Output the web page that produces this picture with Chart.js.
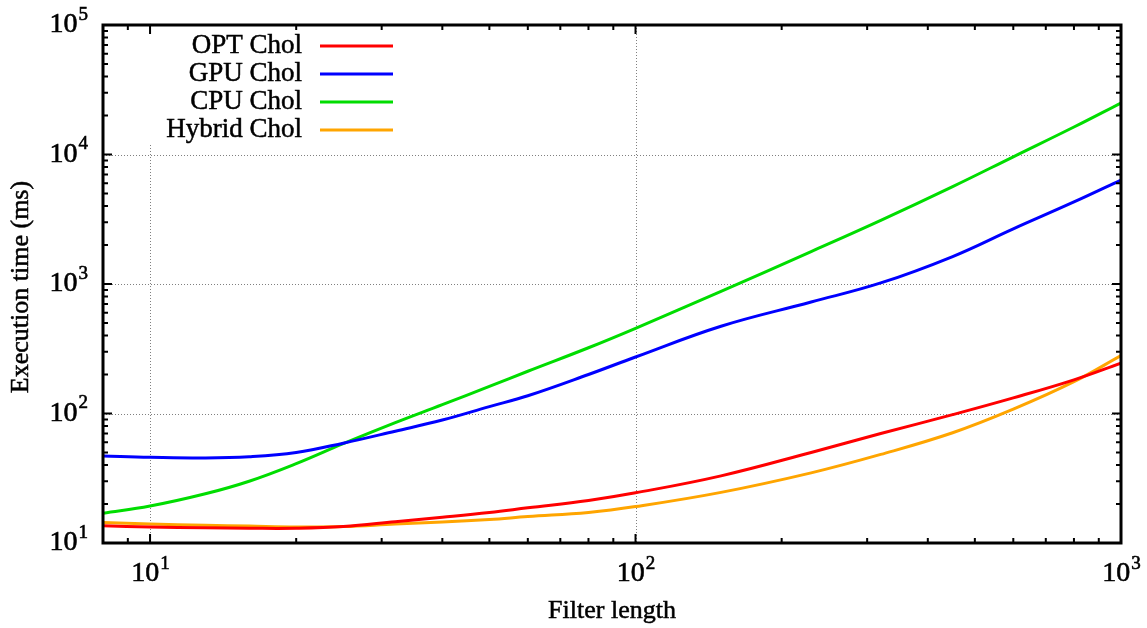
<!DOCTYPE html>
<html>
<head>
<meta charset="utf-8">
<script src="https://cdn.jsdelivr.net/npm/chart.js@4"></script>
<style>
  body { margin: 0; background: #fff; }
  #wrap { width: 1147px; height: 628px; }
</style>
</head>
<body>
<div id="wrap"><canvas id="execChart" width="1147" height="628"></canvas></div>
<script>
// execution time vs filter length, log-log

const filterLengths = [8, 10, 13, 16, 20, 25, 32, 40, 50, 60, 80, 100, 150, 230, 320, 450, 600, 800, 1000];
const optChol    = [13.6, 13.3, 13.1, 13.0, 13.0, 13.4, 14.6, 15.8, 17.2, 18.7, 21.3, 24.4, 33, 50, 70, 98, 132, 182, 245];
const gpuChol    = [47, 45.9, 45.3, 46.3, 50, 59, 73, 89, 113, 137, 200, 273, 472, 726, 1019, 1630, 2666, 4300, 6350];
const cpuChol    = [17.0, 19.3, 24.0, 30.0, 41.0, 58.5, 85, 117, 162, 212, 322, 455, 878, 1780, 3100, 5650, 9600, 16300, 25000];
const hybridChol = [14.4, 14.0, 13.7, 13.5, 13.3, 13.4, 14.0, 14.5, 15.2, 16.0, 17.2, 19.1, 24.6, 34.8, 48.3, 71, 108, 176, 280];

const seriesNames = ['OPT Chol', 'GPU Chol', 'CPU Chol', 'Hybrid Chol'];
const seriesColors = ['#ff0000', '#0000ff', '#00dd00', '#ffa500'];
const xTickValues = [10, 100, 1000];
const yTickValues = [10, 100, 1000, 10000, 100000];

const serif = '"Liberation Serif", "DejaVu Serif", serif';

function toPoints(values) {
    return filterLengths.map((x, i) => ({ x: x, y: values[i] }));
}

// filled text with a hairline stroke, so it looks as heavy as the original
function heavyText(ctx, text, x, y) {
    ctx.fillText(text, x, y);
    ctx.strokeText(text, x, y);
}

function drawPower(ctx, x, y, exp, align) {
    ctx.font = '28px ' + serif;
    const baseW = ctx.measureText('10').width;
    ctx.font = '19px ' + serif;
    const supW = ctx.measureText(String(exp)).width;
    let left = x;
    if (align === 'right') left = x - baseW - supW;
    if (align === 'center') left = x - (baseW + supW) / 2;
    ctx.textAlign = 'left';
    ctx.textBaseline = 'middle';
    ctx.fillStyle = '#000';
    ctx.strokeStyle = '#000';
    ctx.lineWidth = 0.6;
    ctx.font = '28px ' + serif;
    heavyText(ctx, '10', left, y);
    ctx.font = '19px ' + serif;
    heavyText(ctx, String(exp), left + baseW + 1, y - 10);
}

const frame = {
    id: 'frame',
    beforeDatasetsDraw(chart) {
        const ctx = chart.ctx;
        const a = chart.chartArea;
        const xs = chart.scales.x, ys = chart.scales.y;
        ctx.save();
        ctx.strokeStyle = '#808080';
        ctx.lineWidth = 1;
        ctx.setLineDash([1, 2]);
        xTickValues.forEach(v => {
            const px = Math.round(xs.getPixelForValue(v)) + 0.5;
            ctx.beginPath(); ctx.moveTo(px, a.top); ctx.lineTo(px, a.bottom); ctx.stroke();
        });
        yTickValues.forEach(v => {
            const py = Math.round(ys.getPixelForValue(v)) + 0.5;
            ctx.beginPath(); ctx.moveTo(a.left, py); ctx.lineTo(a.right, py); ctx.stroke();
        });
        ctx.setLineDash([]);
        // legend box hides the grid behind it
        ctx.fillStyle = '#fff';
        ctx.fillRect(a.left, a.top, 300, 118);
        ctx.restore();
    },
    afterDraw(chart) {
        const ctx = chart.ctx;
        const a = chart.chartArea;
        const xs = chart.scales.x, ys = chart.scales.y;
        ctx.save();
        ctx.strokeStyle = '#000';

        // minor + major ticks, inside, all four sides
        ctx.lineWidth = 2;
        for (let d = 1; d <= 100; d *= 10) {
            for (let m = 1; m <= 9; m++) {
                const v = d * m;
                if (v < 8 || v > 1000) continue;
                const px = xs.getPixelForValue(v);
                const len = m === 1 ? 9 : 5;
                ctx.beginPath();
                ctx.moveTo(px, a.bottom); ctx.lineTo(px, a.bottom - len);
                ctx.moveTo(px, a.top); ctx.lineTo(px, a.top + len);
                ctx.stroke();
            }
        }
        for (let d = 10; d <= 100000; d *= 10) {
            for (let m = 1; m <= 9; m++) {
                const v = d * m;
                if (v > 100000) continue;
                const py = ys.getPixelForValue(v);
                const len = m === 1 ? 9 : 5;
                ctx.beginPath();
                ctx.moveTo(a.left, py); ctx.lineTo(a.left + len, py);
                ctx.moveTo(a.right, py); ctx.lineTo(a.right - len, py);
                ctx.stroke();
            }
        }

        ctx.lineWidth = 3;
        ctx.strokeRect(a.left, a.top, a.right - a.left, a.bottom - a.top);

        // tick labels
        xTickValues.forEach(v => {
            drawPower(ctx, xs.getPixelForValue(v), a.bottom + 31, Math.round(Math.log10(v)), 'center');
        });
        yTickValues.forEach(v => {
            drawPower(ctx, a.left - 16, ys.getPixelForValue(v), Math.round(Math.log10(v)), 'right');
        });

        // axis titles
        ctx.fillStyle = '#000';
        ctx.strokeStyle = '#000';
        ctx.lineWidth = 0.5;
        ctx.font = '26px ' + serif;
        ctx.textAlign = 'center';
        ctx.textBaseline = 'middle';
        heavyText(ctx, 'Filter length', (a.left + a.right) / 2, 611);
        ctx.save();
        ctx.translate(21, 287);
        ctx.rotate(-Math.PI / 2);
        heavyText(ctx, 'Execution time (ms)', 0, 0);
        ctx.restore();

        // legend
        ctx.font = '27px ' + serif;
        ctx.textAlign = 'right';
        seriesNames.forEach((name, i) => {
            const y = 46 + i * 28;
            ctx.fillStyle = '#000';
            ctx.strokeStyle = '#000';
            ctx.lineWidth = 0.5;
            heavyText(ctx, name, 302, y);
            ctx.strokeStyle = seriesColors[i];
            ctx.lineWidth = 3;
            ctx.beginPath(); ctx.moveTo(320, y); ctx.lineTo(393, y); ctx.stroke();
        });
        ctx.restore();
    }
};

const seriesValues = [optChol, gpuChol, cpuChol, hybridChol];

new Chart(document.getElementById('execChart'), {
    type: 'line',
    data: {
        datasets: seriesNames.map((name, i) => ({
            label: name,
            data: toPoints(seriesValues[i]),
            borderColor: seriesColors[i],
            borderWidth: 3,
            pointRadius: 0,
            fill: false,
            tension: 0.4
        }))
    },
    options: {
        responsive: false,
        animation: false,
        layout: { padding: { top: 25, right: 26, left: 0, bottom: 0 } },
        plugins: { legend: { display: false }, tooltip: { enabled: false } },
        scales: {
            x: {
                type: 'logarithmic', min: 8, max: 1000,
                ticks: { display: false },
                grid: { display: false },
                border: { display: false },
                afterFit: s => { s.width = s.width; s.height = 85; }
            },
            y: {
                type: 'logarithmic', min: 10, max: 100000,
                ticks: { display: false },
                grid: { display: false },
                border: { display: false },
                afterFit: s => { s.width = 103; }
            }
        }
    },
    plugins: [frame]
});
</script>
</body>
</html>
